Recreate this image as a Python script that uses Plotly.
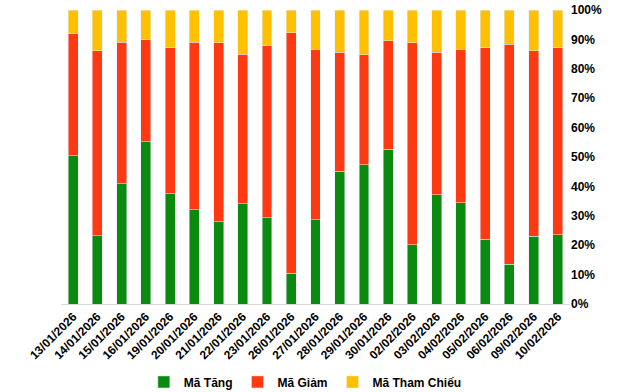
import plotly.graph_objects as go

dates = ["13/01/2026", "14/01/2026", "15/01/2026", "16/01/2026", "19/01/2026", "20/01/2026",
         "21/01/2026", "22/01/2026", "23/01/2026", "26/01/2026", "27/01/2026", "28/01/2026",
         "29/01/2026", "30/01/2026", "02/02/2026", "03/02/2026", "04/02/2026", "05/02/2026",
         "06/02/2026", "09/02/2026", "10/02/2026"]

ma_tang = [50.4, 23.2, 40.9, 55.2, 37.5, 32.1, 28.0, 34.1, 29.4, 10.5, 28.7, 45.2,
           47.3, 52.7, 20.1, 37.1, 34.4, 22.1, 13.6, 23.1, 23.5]
ma_giam = [41.5, 62.9, 48.2, 34.6, 49.6, 57.0, 60.8, 50.9, 58.4, 81.7, 58.0, 40.5,
           37.4, 36.8, 68.7, 48.6, 52.3, 65.0, 74.8, 63.0, 63.6]
ma_tham_chieu = [8.1, 13.9, 10.9, 10.2, 12.9, 10.9, 11.2, 15.0, 12.2, 7.8, 13.3, 14.3,
                 15.3, 10.5, 11.2, 14.3, 13.3, 12.9, 11.6, 13.9, 12.9]

y_ticks = list(range(0, 101, 10))

FONT = "Liberation Sans, Arial, sans-serif"

fig = go.Figure()
fig.add_trace(go.Bar(x=dates, y=ma_tang, name="<b>Mã Tăng</b>", marker_color="#0B8A10"))
fig.add_trace(go.Bar(x=dates, y=ma_giam, name="<b>Mã Giảm</b>", marker_color="#FF3A12"))
fig.add_trace(go.Bar(x=dates, y=ma_tham_chieu, name="<b>Mã Tham Chiếu</b>", marker_color="#FFC000"))

fig.update_layout(
    width=640, height=392,
    barmode="stack",
    bargap=0.59,
    plot_bgcolor="white", paper_bgcolor="white",
    margin=dict(l=61, r=70, t=10, b=88, autoexpand=False),
    font=dict(family=FONT, size=12, color="#000000"),
    legend=dict(orientation="h", traceorder="normal", x=0.48, xanchor="center",
                y=-0.265, yanchor="middle",
                font=dict(size=12), itemwidth=30, tracegroupgap=0),
    xaxis=dict(type="category", tickangle=-45, showline=True, linecolor="#D9D9D9",
               linewidth=1, ticks="", showgrid=False, automargin=False,
               tickfont=dict(family=FONT, size=12, weight="bold")),
    yaxis=dict(side="right", range=[0, 100], tickvals=y_ticks,
               ticktext=[f"<b>{v}%</b>" for v in y_ticks], automargin=False,
               showgrid=False, zeroline=False, showline=False, ticks="",
               tickfont=dict(family=FONT, size=12)),
)

fig.write_html("out.html", config={"displayModeBar": False},
               post_script="document.body.style.margin='0';document.body.style.overflow='hidden';")
